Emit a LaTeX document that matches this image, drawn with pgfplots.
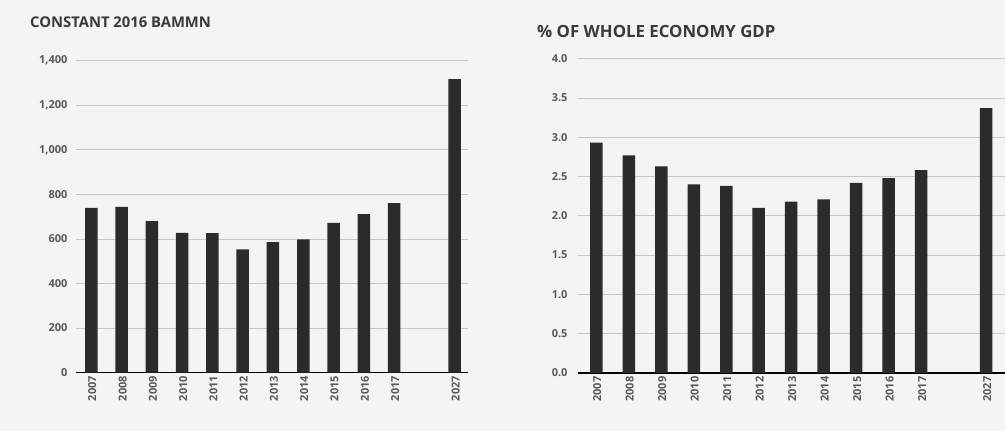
\documentclass[border=0pt]{standalone}
\usepackage{pgfplots}
\pgfplotsset{compat=1.18}
\usepackage{pgfplotstable}
\usepackage{fontspec}
\setmainfont{Open Sans}
\definecolor{barc}{HTML}{2B2B2B}
\definecolor{gridc}{HTML}{C8C8C8}
\definecolor{txtc}{HTML}{595959}
\definecolor{titc}{HTML}{3A3A3A}
\definecolor{bgc}{HTML}{F4F4F4}

\pgfplotstableread{
x y
0 739
1 744
2 680
3 627
4 626
5 553
6 586
7 598
8 672
9 711
10 760
12 1317
}\leftdata

\pgfplotstableread{
x y
0 2.93
1 2.77
2 2.63
3 2.40
4 2.38
5 2.10
6 2.18
7 2.21
8 2.42
9 2.48
10 2.58
12 3.37
}\rightdata

\pgfplotsset{
  mybars/.style={
    scale only axis,
    ybar, bar width=12.5pt,
    ymin=0,
    axis x line*=bottom, axis y line*=left,
    x axis line style={draw=black, line width=1.5pt},
    y axis line style={draw=none},
    major tick length=0pt,
    ymajorgrids, grid style={gridc, line width=0.7pt},
    xtick={0,1,2,3,4,5,6,7,8,9,10,12},
    xticklabels={2007,2008,2009,2010,2011,2012,2013,2014,2015,2016,2017,2027},
    xticklabel style={rotate=90, anchor=east, font=\fontsize{11}{12}\selectfont\bfseries, text=txtc, yshift=-1pt},
    yticklabel style={font=\fontsize{11}{12}\selectfont\bfseries, text=txtc},
    /pgf/number format/assume math mode=true,
    clip=false,
  }
}

\begin{document}
\begin{tikzpicture}[x=1pt,y=1pt]
\fill[bgc] (0,0) rectangle (1005,431);

\begin{axis}[mybars,
  at={(76pt,58.4pt)}, anchor=south west,
  width=392pt, height=312pt,
  xmin=-0.505, xmax=12.44,
  ymax=1400, ytick={0,200,...,1400},
  yticklabel style={xshift=-5pt},
  /pgf/number format/.cd, 1000 sep={,}]
\addplot[fill=barc, draw=none] table[x=x,y=y] {\leftdata};
\end{axis}

\begin{axis}[mybars,
  at={(578pt,58pt)}, anchor=south west,
  width=427pt, height=314.4pt,
  xmin=-0.563, xmax=12.58,
  ymax=4, ytick={0,0.5,...,4},
  yticklabel style={xshift=-7pt, /pgf/number format/.cd, fixed, fixed zerofill, precision=1}]
\addplot[fill=barc, draw=none] table[x=x,y=y] {\rightdata};
\end{axis}

\node[anchor=west, font=\fontsize{14.8}{17}\selectfont\bfseries, text=titc, inner sep=0pt] at (30,409) {CONSTANT 2016 BAMMN};
\node[anchor=west, font=\fontsize{16.8}{18}\selectfont\bfseries, text=titc, inner sep=0pt] at (537,400) {\% OF WHOLE ECONOMY GDP};

\pgfresetboundingbox
\useasboundingbox (0,0) rectangle (1005,431);
\end{tikzpicture}
\end{document}
